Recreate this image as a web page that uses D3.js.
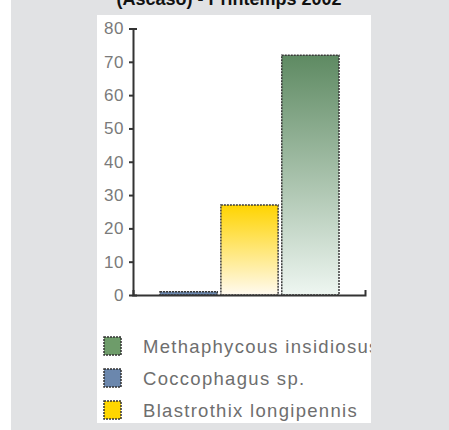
<!DOCTYPE html>
<html lang="en">
    <head>
        <meta charset="utf-8">
        <title>Parasitoides</title>
        <script src="https://d3js.org/d3.v7.min.js"></script>
        <style type="text/css">
            body { margin: 0; background: #fff; }
            .axis path, .axis line { stroke: #333; stroke-width: 2px; }
            .axis text { font-family: Arial, "Liberation Sans", sans-serif; font-size: 17px; fill: #7a7a7a; letter-spacing: 0.5px; }
            .legend text { font-family: Arial, "Liberation Sans", sans-serif; font-size: 18.5px; fill: #6e6e6e; letter-spacing: 1.3px; }
            .title { font-family: Arial, "Liberation Sans", sans-serif; font-size: 18px; font-weight: bold; fill: #111; }
        </style>
    </head>
    <body>
        <script type="text/javascript">

            const w = 449;
            const h = 430;

            // data
            const categories = ["Coccophagus sp.", "Blastrothix longipennis", "Methaphycous insidiosus"];
            const values = [1, 27, 72];
            const yTicks = [0, 10, 20, 30, 40, 50, 60, 70, 80];
            const legendOrder = ["Methaphycous insidiosus", "Coccophagus sp.", "Blastrothix longipennis"];
            const titleText = "(Ascaso) - Printemps 2002";

            const data = categories.map((c, i) => ({name: c, value: values[i]}));

            const colors = {
                "Coccophagus sp.": ["#6b87ad", "#6b87ad"],
                "Blastrothix longipennis": ["#ffd400", "#fffaf0"],
                "Methaphycous insidiosus": ["#5e8a62", "#eef6f1"]
            };
            const legendColors = {
                "Methaphycous insidiosus": "#6e9c6a",
                "Coccophagus sp.": "#6b87ad",
                "Blastrothix longipennis": "#ffd700"
            };

            const svg = d3.select("body")
                .append("svg")
                .attr("width", w)
                .attr("height", h);

            // backgrounds
            svg.append("rect").attr("x", 11).attr("y", 0).attr("width", w - 11).attr("height", h).attr("fill", "#e1e2e4");
            svg.append("rect").attr("x", 97).attr("y", 15).attr("width", 274).attr("height", 408).attr("fill", "#fff");

            svg.append("defs").append("clipPath").attr("id", "panel")
                .append("rect").attr("x", 97).attr("y", 15).attr("width", 274).attr("height", 408);

            // title, cut by top edge as in the original
            svg.append("text")
                .attr("class", "title")
                .attr("x", 229)
                .attr("y", 5)
                .attr("text-anchor", "middle")
                .text(titleText);

            // gradients
            const defs = svg.select("defs");
            categories.forEach((c, i) => {
                const g = defs.append("linearGradient")
                    .attr("id", "grad" + i)
                    .attr("x1", 0).attr("y1", 0).attr("x2", 0).attr("y2", 1);
                g.append("stop").attr("offset", "0%").attr("stop-color", colors[c][0]);
                g.append("stop").attr("offset", "100%").attr("stop-color", colors[c][1]);
            });

            // scales
            const yScale = d3.scaleLinear()
                .domain([0, 80])
                .range([295, 28.5]);

            const xScale = d3.scaleBand()
                .domain(categories)
                .range([160, 339])
                .paddingInner(0.06);

            const xLine = d3.scaleLinear().range([133, 365]);

            // bars
            svg.selectAll(".bar")
                .data(data)
                .join("rect")
                .attr("class", "bar")
                .attr("x", d => xScale(d.name))
                .attr("y", d => yScale(d.value))
                .attr("width", xScale.bandwidth())
                .attr("height", d => yScale(0) - yScale(d.value))
                .attr("fill", (d, i) => "url(#grad" + i + ")")
                .attr("stroke", "#3a3a3a")
                .attr("stroke-width", 1.5)
                .attr("stroke-dasharray", "2 1");

            // axes
            svg.append("g")
                .attr("class", "axis")
                .attr("transform", "translate(133,0)")
                .call(d3.axisLeft(yScale).tickValues(yTicks).tickSize(4).tickSizeOuter(-4).tickPadding(5));

            svg.append("g")
                .attr("class", "axis")
                .attr("transform", "translate(0,295)")
                .call(d3.axisBottom(xLine).tickValues([]).tickSizeOuter(-5));

            // legend
            const legend = svg.append("g")
                .attr("class", "legend")
                .attr("clip-path", "url(#panel)");

            const rowY = d3.scalePoint().domain(legendOrder).range([346, 410]);

            legend.selectAll("rect")
                .data(legendOrder)
                .join("rect")
                .attr("x", 104)
                .attr("y", d => rowY(d) - 9)
                .attr("width", 17)
                .attr("height", 18)
                .attr("fill", d => legendColors[d])
                .attr("stroke", "#333")
                .attr("stroke-width", 1.5)
                .attr("stroke-dasharray", "2 1");

            legend.selectAll("text")
                .data(legendOrder)
                .join("text")
                .attr("x", 143)
                .attr("y", d => rowY(d) + 7)
                .text(d => d);

        </script>
    </body>
</html>
